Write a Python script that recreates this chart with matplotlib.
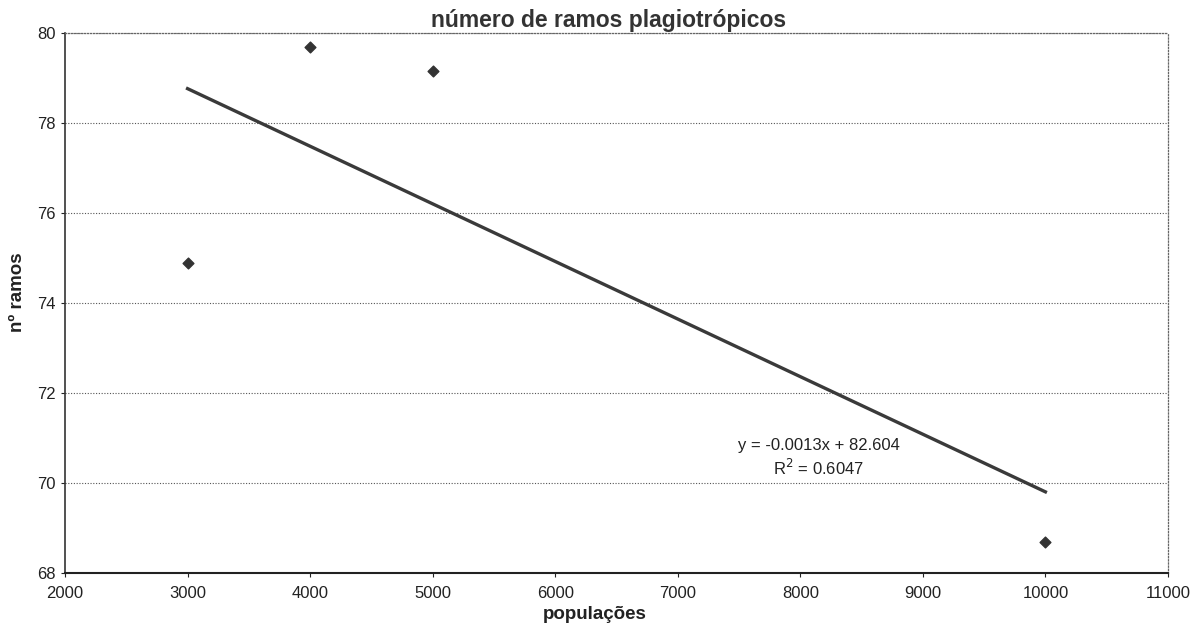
import numpy as np
import matplotlib
matplotlib.use("Agg")
import matplotlib.pyplot as plt

plt.rcParams['font.family'] = ['Liberation Sans', 'DejaVu Sans']

# Observed values per population
populacoes = [3000, 4000, 5000, 10000]
n_ramos = [74.9, 79.7, 79.15, 68.7]

# Linear trend for the series
slope = -0.00128
intercept = 82.604
r2 = 0.6047

x_ticks = list(range(2000, 11001, 1000))
y_ticks = list(range(68, 81, 2))

fig = plt.figure(figsize=(11.93, 6.35), dpi=100)
ax = fig.add_axes([0.0545, 0.0976, 0.9245, 0.8504])

ax.set_xlim(2000, 11000)
ax.set_ylim(68, 80)
ax.set_xticks(x_ticks)
ax.set_yticks(y_ticks)

for y in y_ticks[1:]:
    ax.axhline(y, color='#555555', lw=0.8, ls=(0, (1, 1.5)), zorder=1)

ax.scatter(populacoes, n_ramos, marker='D', s=30, color='#333333', zorder=3)

tx = np.array([min(populacoes), max(populacoes)])
ax.plot(tx, slope * tx + intercept, color='#3a3a3a', lw=2.4, zorder=2)

ax.text(8150, 70.55, f"y = {slope:.4f}x + {intercept:.3f}\nR$^2$ = {r2:.4f}",
        ha='center', va='center', fontsize=12, color='#222222', linespacing=1.3)

for side in ['top', 'right']:
    ax.spines[side].set_linestyle((0, (1, 1.5)))
    ax.spines[side].set_color('#666666')
    ax.spines[side].set_linewidth(0.9)
ax.spines['left'].set_color('#333333')
ax.spines['left'].set_linewidth(1.2)
ax.spines['bottom'].set_color('#222222')
ax.spines['bottom'].set_linewidth(1.5)

ax.tick_params(axis='both', labelsize=12, colors='#222222', length=3, width=0.8)
ax.tick_params(axis='x', direction='out', pad=6)

ax.set_xlabel('populações', fontsize=13.5, fontweight='bold', labelpad=4,
              color='#222222', x=0.48)
ax.set_ylabel('nº ramos', fontsize=13.5, fontweight='bold', labelpad=8,
              color='#222222', y=0.52)
ax.set_title('número de ramos plagiotrópicos', fontsize=16.5, fontweight='bold',
             color='#333333', x=0.493, pad=4)

fig.savefig('out.png', dpi=100)
